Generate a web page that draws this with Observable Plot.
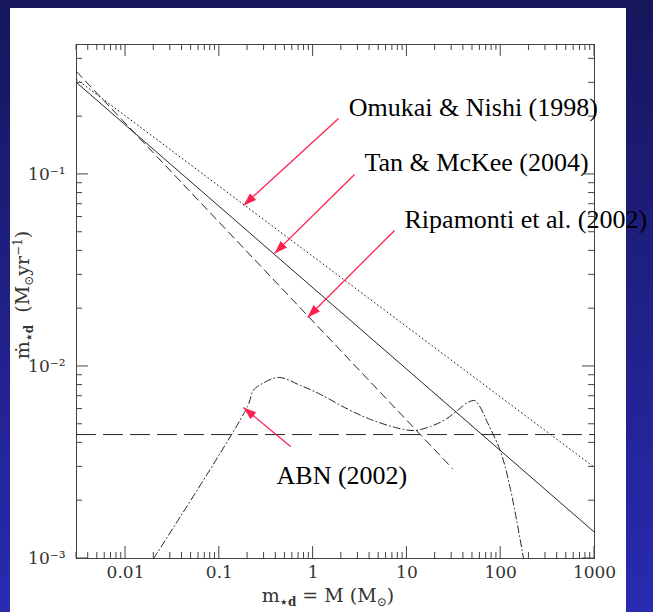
<!DOCTYPE html>
<html><head><meta charset="utf-8">
<script src="https://cdn.jsdelivr.net/npm/d3@7"></script>
<script src="https://cdn.jsdelivr.net/npm/@observablehq/plot@0.6"></script>
<style>
html,body{margin:0;padding:0;}
body{width:653px;height:612px;overflow:hidden;position:relative;background:linear-gradient(to bottom,#16165c,#2a2ab2);}
#panel{position:absolute;left:10px;top:8px;width:616px;height:604px;background:#fff;}
#chart{position:absolute;left:0;top:0;width:653px;height:612px;}
</style></head><body>
<div id="panel"></div><div id="chart"></div>
<script>
// ---- data ----
const xDomain = [0.003, 1000];
const yDomain = [0.001, 0.475];

const omukaiMass = [0.003, 1000];
const omukaiRate = [0.313, 0.00298];

const tanMass = [0.003, 1000];
const tanRate = [0.301, 0.00137];

const ripamontiMass = [0.003, 30.6];
const ripamontiRate = [0.343, 0.00294];

const constMass = [0.003, 1000];
const constRate = [0.00442, 0.00442];

const abnMass = [0.0199, 0.2, 0.23, 0.289, 0.43, 0.734, 1.2, 2.38, 4.09, 7.56, 11.8, 17.8, 25.8, 35.5, 44.3, 52.6, 58.0, 72.3, 99.5, 127.2, 175];
const abnRate = [0.001, 0.00619, 0.0075, 0.00816, 0.00877, 0.00796, 0.00715, 0.00597, 0.0053, 0.00481, 0.00464, 0.00487, 0.0053, 0.00597, 0.00649, 0.00665, 0.00634, 0.00511, 0.00361, 0.00229, 0.001];

const labelText = ["Omukai & Nishi (1998)", "Tan & McKee (2004)", "Ripamonti et al. (2002)", "ABN (2002)"];
const labelMass = [2.40, 3.53, 9.43, 0.407];
const labelRate = [0.2004, 0.1037, 0.0529, 0.00243];
const arrowFromMass = [1.866, 2.763, 7.38, 0.574];
const arrowFromRate = [0.1957, 0.1, 0.0511, 0.00383];
const arrowToMass = [0.181, 0.388, 0.871, 0.181];
const arrowToRate = [0.069, 0.0388, 0.018, 0.00611];

const xMajorTicks = [0.01, 0.1, 1, 10, 100, 1000];
const xTickLabels = ["0.01", "0.1", "1", "10", "100", "1000"];
const yMajorTicks = [0.001, 0.01, 0.1];
const yTickLabels = ["10\u207B\u00B3", "10\u207B\u00B2", "10\u207B\u00B9"];
const minorMultipliers = [2, 3, 4, 5, 6, 7, 8, 9];
const xDecades = [0.001, 0.01, 0.1, 1, 10, 100];
const yDecades = [0.001, 0.01, 0.1];

// ---- helpers ----
const rows = (xs, ys) => xs.map((x, i) => ({x, y: ys[i]}));
const xLab = new Map(xMajorTicks.map((t, i) => [t, xTickLabels[i]]));
const yLab = new Map(yMajorTicks.map((t, i) => [t, yTickLabels[i]]));
const arrows = labelText.map((t, i) => ({x1: arrowFromMass[i], y1: arrowFromRate[i], x2: arrowToMass[i], y2: arrowToRate[i]}));
const labels = labelText.map((t, i) => ({t, x: labelMass[i], y: labelRate[i]}));

function arrowHead(color, context) {
  const ns = "http://www.w3.org/2000/svg";
  const m = context.document.createElementNS(ns, "marker");
  m.setAttribute("viewBox", "0 -5 13 10");
  m.setAttribute("markerWidth", 13);
  m.setAttribute("markerHeight", 10);
  m.setAttribute("refX", 13);
  m.setAttribute("refY", 0);
  m.setAttribute("orient", "auto");
  m.setAttribute("markerUnits", "userSpaceOnUse");
  const p = context.document.createElementNS(ns, "path");
  p.setAttribute("d", "M0,-4.5L13,0L0,4.5Z");
  p.setAttribute("fill", color);
  p.setAttribute("stroke", "none");
  m.appendChild(p);
  return m;
}

const lineColor = "#262626";
const red = "#ff1f50";

const plot = Plot.plot({
  width: 653, height: 612,
  marginLeft: 76, marginRight: 59, marginTop: 44, marginBottom: 54,
  style: {background: "transparent", overflow: "visible", fontFamily: "DejaVu Serif"},
  x: {type: "log", domain: xDomain},
  y: {type: "log", domain: yDomain},
  marks: [
    Plot.axisX(xMajorTicks, {tickSize: 0, tickPadding: 7, tickFormat: d => xLab.get(d), fontSize: 17, fill: "#333", label: null}),
    Plot.axisY(yMajorTicks, {tickSize: 0, tickPadding: 11, tickFormat: d => yLab.get(d), fontSize: 17, fill: "#333", label: null}),
    Plot.frame({stroke: "#444", strokeWidth: 1}),
    Plot.line(rows(constMass, constRate), {x: "x", y: "y", stroke: lineColor, strokeWidth: 1, strokeDasharray: "19,8"}),
    Plot.line(rows(omukaiMass, omukaiRate), {x: "x", y: "y", stroke: lineColor, strokeWidth: 1, strokeDasharray: "1,3"}),
    Plot.line(rows(tanMass, tanRate), {x: "x", y: "y", stroke: lineColor, strokeWidth: 1}),
    Plot.line(rows(ripamontiMass, ripamontiRate), {x: "x", y: "y", stroke: lineColor, strokeWidth: 1, strokeDasharray: "8,5"}),
    Plot.line(rows(abnMass, abnRate), {x: "x", y: "y", stroke: lineColor, strokeWidth: 1, strokeDasharray: "7,3,1,3", curve: "catmull-rom"}),
    Plot.link(arrows, {x1: "x1", y1: "y1", x2: "x2", y2: "y2", stroke: red, strokeWidth: 1.3, markerEnd: arrowHead}),
    Plot.text(labels, {x: "x", y: "y", text: "t", textAnchor: "start", lineAnchor: "bottom", fontSize: 26, fontFamily: "Liberation Serif", fill: "#000"})
  ]
});
document.getElementById("chart").appendChild(plot);

// ---- inward tick marks on all four sides, via Plot's scales ----
const sx = plot.scale("x"), sy = plot.scale("y");
const [xl, xr] = sx.range;
const [yb, yt] = sy.range;
const svg = d3.select(plot);
const g = svg.append("g").attr("stroke", "#444").attr("stroke-width", 1).attr("fill", "none");
const inDom = (v, dom) => v >= dom[0] * 0.999 && v <= dom[1] * 1.001;
const xMinor = xDecades.flatMap(d => minorMultipliers.map(m => d * m)).filter(v => inDom(v, xDomain));
const yMinor = yDecades.flatMap(d => minorMultipliers.map(m => d * m)).filter(v => inDom(v, yDomain));
function xTick(v, len) {
  const px = sx.apply(v);
  g.append("line").attr("x1", px).attr("x2", px).attr("y1", yb).attr("y2", yb - len);
  g.append("line").attr("x1", px).attr("x2", px).attr("y1", yt).attr("y2", yt + len);
}
function yTick(v, len) {
  const py = sy.apply(v);
  g.append("line").attr("y1", py).attr("y2", py).attr("x1", xl).attr("x2", xl + len);
  g.append("line").attr("y1", py).attr("y2", py).attr("x1", xr).attr("x2", xr - len);
}
xMajorTicks.forEach(v => xTick(v, 12));
xMinor.forEach(v => xTick(v, 6));
yMajorTicks.forEach(v => yTick(v, 12));
yMinor.forEach(v => yTick(v, 6));

// ---- axis titles ----
const xt = svg.append("text").attr("x", 328).attr("y", 602)
  .attr("text-anchor", "middle").attr("font-family", "DejaVu Serif").attr("font-size", 19).attr("fill", "#333");
xt.append("tspan").text("m");
xt.append("tspan").attr("dy", 4).attr("font-size", 12).attr("font-weight", "bold").text("\u22C6d");
xt.append("tspan").attr("dy", -4).text(" = M (M");
xt.append("tspan").attr("dy", 4).attr("font-size", 12).text("\u2299");
xt.append("tspan").attr("dy", -4).text(")");

const yt2 = svg.append("text").attr("transform", "translate(29,295) rotate(-90)")
  .attr("text-anchor", "middle").attr("font-family", "DejaVu Serif").attr("font-size", 19).attr("fill", "#333");
yt2.append("tspan").text("\u1E41");
yt2.append("tspan").attr("dy", 4).attr("font-size", 12).attr("font-weight", "bold").text("\u22C6d");
yt2.append("tspan").attr("dy", -4).text("  (M");
yt2.append("tspan").attr("dy", 4).attr("font-size", 12).text("\u2299");
yt2.append("tspan").attr("dy", -4).text("yr");
yt2.append("tspan").attr("dy", -7).attr("font-size", 12).text("\u22121");
yt2.append("tspan").attr("dy", 7).text(")");
</script>
</body></html>
